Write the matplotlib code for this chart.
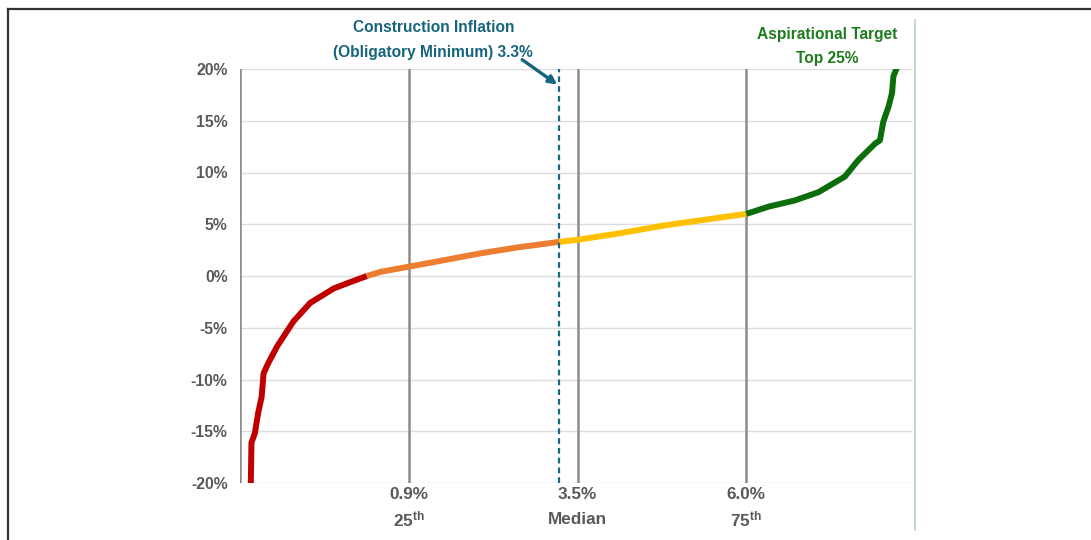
import matplotlib
matplotlib.use("Agg")
import matplotlib.pyplot as plt
from matplotlib.lines import Line2D
import numpy as np

plt.rcParams['font.family'] = ['Liberation Sans', 'DejaVu Sans']
plt.rcParams['mathtext.fontset'] = 'custom'
plt.rcParams['mathtext.bf'] = 'Liberation Sans:bold'
plt.rcParams['mathtext.rm'] = 'Liberation Sans'

# Sorted annual returns by percentile rank
percentile = [1.6, 1.7, 2.2, 2.7, 3.2, 3.5, 4.2, 5.5, 6.9, 7.9, 10.4, 13.9, 15.9,
              18.8, 20.8, 25.0, 30.0, 35.7, 41.0, 47.3,
              50.0, 56.0, 63.0, 69.0, 75.0,
              78.3, 82.2, 85.7, 89.6, 91.6, 94.1, 94.8, 95.3, 96.1, 96.6, 96.8, 97.3]
returns = [-20.0, -16.1, -15.2, -13.2, -11.7, -9.4, -8.4, -6.8, -5.4, -4.4, -2.6, -1.2, -0.7,
           0.0, 0.4, 0.9, 1.5, 2.2, 2.75, 3.3,
           3.5, 4.1, 4.9, 5.45, 6.0,
           6.7, 7.3, 8.1, 9.6, 11.2, 12.8, 13.1, 14.9, 16.4, 17.7, 19.3, 20.1]

# Band limits on the return axis and their colours
band_limits = [0.0, 3.3, 6.0]
band_colors = ['#C00000', '#ED7D31', '#FFC000', '#0B6E0B']

quartile_pcts = [25, 50, 75]
quartile_values = ['0.9%', '3.5%', '6.0%']
quartile_names = [r'$\mathbf{25^{th}}$', 'Median', r'$\mathbf{75^{th}}$']

inflation_pct = 47.3
inflation_rate = 3.3

y_ticks = list(range(-20, 21, 5))

fig = plt.figure(figsize=(10.91, 5.40), dpi=100)
ax = fig.add_axes([240 / 1091, 1 - 483 / 540, (915 - 240) / 1091, (483 - 69) / 540])
ax.set_xlim(0, 100)
ax.set_ylim(-20, 20)

for s in ax.spines.values():
    s.set_visible(False)
ax.set_xticks([])
ax.set_yticks(y_ticks)
ax.set_yticklabels([f'{t}%' for t in y_ticks], fontsize=11.3, fontweight='bold', color='#595959')
ax.tick_params(axis='y', length=0, pad=9)
for t in y_ticks:
    ax.axhline(t, xmax=0.994, color='#DCDCDC', lw=1.0, zorder=0)

# Vertical reference lines at the axis start and quartiles
for p in [0] + quartile_pcts:
    ax.axvline(p, color='#8C8C8C', lw=1.8, zorder=1)

# Coloured curve segments
x = np.array(percentile)
y = np.array(returns)
edges = [-np.inf] + band_limits + [np.inf]
for i, c in enumerate(band_colors):
    lo, hi = edges[i], edges[i + 1]
    idx = np.where((y >= lo) & (y <= hi))[0]
    ax.plot(x[idx], y[idx], color=c, lw=4.3, solid_capstyle='butt',
            solid_joinstyle='round', zorder=3, clip_on=True)

# Construction inflation marker
teal = '#17657D'
ax.plot([inflation_pct, inflation_pct], [-20, 20], color='#1B6A82', lw=1.6,
        linestyle=(0, (2.6, 1.8)), zorder=4)

ax.annotate('', xy=(inflation_pct - 0.3, 18.5), xytext=(41.8, 20.9),
            xycoords='data', textcoords='data', annotation_clip=False,
            arrowprops=dict(arrowstyle='-|>', color=teal, lw=2.4,
                            mutation_scale=12, shrinkA=0, shrinkB=0))

fig.text(434 / 1091, 1 - 28 / 540, 'Construction Inflation', ha='center', va='center',
         fontsize=11.2, fontweight='bold', color=teal)
fig.text(433 / 1091, 1 - 52 / 540, f'(Obligatory Minimum) {inflation_rate}%', ha='center',
         va='center', fontsize=11.2, fontweight='bold', color=teal)

green = '#1E7B1E'
fig.text(827 / 1091, 1 - 35 / 540, 'Aspirational Target', ha='center', va='center',
         fontsize=11.2, fontweight='bold', color=green)
fig.text(827 / 1091, 1 - 58 / 540, 'Top 25%', ha='center', va='center',
         fontsize=11.2, fontweight='bold', color=green)

# Quartile labels below the plot
for p, v, n in zip(quartile_pcts, quartile_values, quartile_names):
    ax.text(p, -21.07, v, ha='center', va='center', fontsize=12.3, fontweight='bold',
            color='#595959', clip_on=False)
    ax.text(p, -23.55, n, ha='center', va='center', fontsize=12.3, fontweight='bold',
            color='#595959', clip_on=False)

# Outer frame
fig.add_artist(Line2D([7.5 / 1091, 1], [1 - 9 / 540, 1 - 9 / 540], color='#333333', lw=1.6))
fig.add_artist(Line2D([7.5 / 1091, 7.5 / 1091], [0, 1 - 9 / 540], color='#333333', lw=1.6))
fig.add_artist(Line2D([915 / 1091, 915 / 1091], [1 - 530 / 540, 1 - 20 / 540],
                      color='#BCCFD1', lw=1.2))

fig.savefig('out.png', dpi=100)
